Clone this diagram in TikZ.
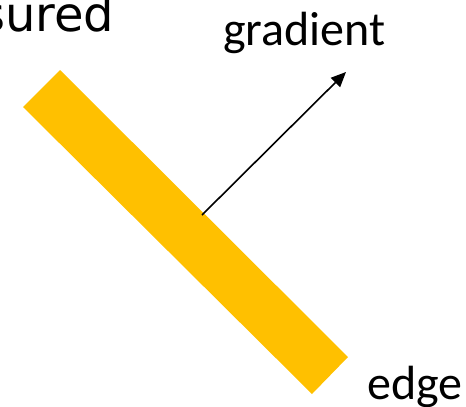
\documentclass[tikz,border=0pt]{standalone}
\usepackage{fontspec}
\setmainfont{Carlito}
\newfontfamily\titlefont{DejaVu Sans}
\usetikzlibrary{arrows.meta}
\definecolor{baryellow}{HTML}{FFC000}
\begin{document}
\begin{tikzpicture}[x=1pt,y=-1pt,
  lbl/.style={inner sep=0pt,font=\fontsize{48}{58}\selectfont},
  ttl/.style={inner sep=0pt,font=\titlefont\fontsize{48}{58}\selectfont},
  arr/.style={line width=1.6pt,-{Triangle[length=15pt,width=13pt]}}]
\useasboundingbox (0,0) rectangle (466,407);
\fill[baryellow] (60,70) -- (23,107) -- (312,394) -- (348,357) -- cycle;
\node[ttl,anchor=base west] (title) at (5,31) {\llap{Meas}ured};
\node[lbl,anchor=base west] (grad) at (223,45) {gradient};
\node[lbl,anchor=base west] (edge) at (367,399) {edge};
\coordinate (s) at (202,215);
\coordinate (t) at (346,72);
\draw[arr] (s) -- (t);
\end{tikzpicture}
\end{document}
